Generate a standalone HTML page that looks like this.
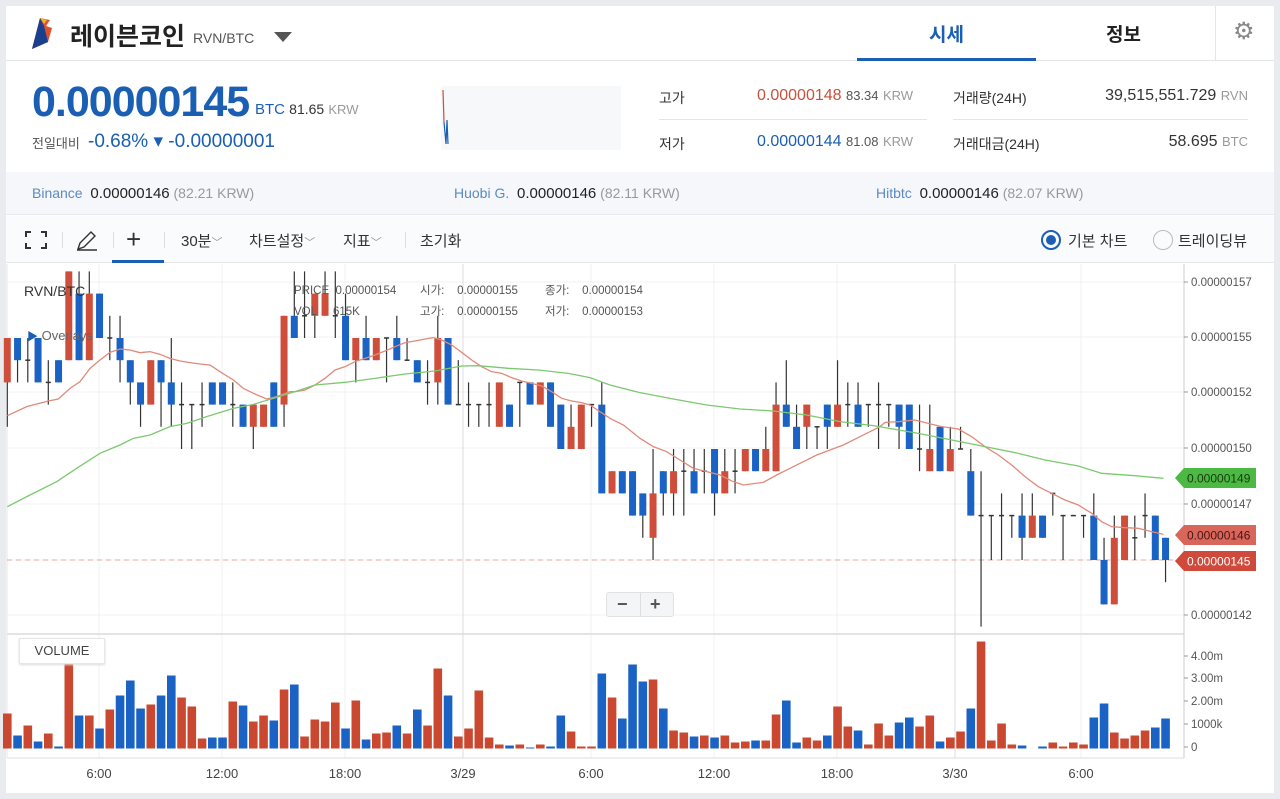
<!DOCTYPE html>
<html><head><meta charset="utf-8">
<style>
*{margin:0;padding:0;box-sizing:border-box}
body{width:1280px;height:799px;background:#e9ebef;font-family:"Liberation Sans","Noto Sans CJK KR",sans-serif;position:relative;overflow:hidden;color:#333}
.card{position:absolute;left:6px;top:6px;width:1268px;height:787px;background:#fff}
.abs{position:absolute;white-space:nowrap}
.g{color:#999}
</style></head><body>
<div class="card"></div>
<!-- header -->
<svg class="abs" style="left:28px;top:16px" width="26" height="34" viewBox="0 0 26 34"><polygon points="12,2 22,4 18,10 24,12 20,26 4,33" fill="#e0502a"/><polygon points="12,2 16,10 20,26 4,33" fill="#1b3f8f"/><polygon points="12,2 19,4 16,8" fill="#f0b030"/></svg>
<div class="abs" style="left:70px;top:17px;font-size:25px;font-weight:bold;color:#222">레이븐코인</div>
<div class="abs" style="left:193px;top:30px;font-size:14px;color:#555">RVN/BTC</div>
<div class="abs" style="left:274px;top:32px;width:0;height:0;border-left:9px solid transparent;border-right:9px solid transparent;border-top:10px solid #555"></div>
<div class="abs" style="left:6px;top:60px;width:1268px;height:1px;background:#e3e5e8"></div>
<div class="abs" style="left:929px;top:20px;font-size:19px;font-weight:bold;color:#1a5fb4">시세</div>
<div class="abs" style="left:857px;top:58px;width:179px;height:3px;background:#1a5fb4"></div>
<div class="abs" style="left:1106px;top:20px;font-size:19px;font-weight:bold;color:#222">정보</div>
<div class="abs" style="left:1215px;top:6px;width:1px;height:54px;background:#e3e5e8"></div>
<div class="abs" style="left:1233px;top:19px;font-size:24px;color:#888;line-height:26px">⚙</div>
<!-- price -->
<div class="abs" style="left:32px;top:78px;font-size:43px;font-weight:bold;color:#1a5fb4;letter-spacing:-1px">0.00000145</div>
<div class="abs" style="left:255px;top:101px;font-size:15px;color:#1a5fb4">BTC <span style="color:#333;font-size:14px">81.65</span> <span class="g" style="font-size:13px">KRW</span></div>
<div class="abs" style="left:32px;top:133px;font-size:13px;color:#555">전일대비</div>
<div class="abs" style="left:88px;top:130px;font-size:19px;color:#1a5fb4">-0.68% ▾ -0.00000001</div>
<div class="abs" style="left:441px;top:86px;width:180px;height:64px;background:#f7f8fa"></div>
<svg class="abs" style="left:441px;top:86px" width="20" height="64"><line x1="2" y1="4" x2="3" y2="36" stroke="#c9503c" stroke-width="1.2"/><polyline points="3,36 5,58 6,34 7,58" fill="none" stroke="#1a5fb4" stroke-width="1.2"/></svg>
<div class="abs" style="left:659px;top:88px;font-size:14px">고가</div>
<div class="abs" style="left:757px;top:87px;font-size:16px;color:#c9503c">0.00000148 <span style="color:#555;font-size:13px">83.34</span> <span class="g" style="font-size:13px">KRW</span></div>
<div class="abs" style="left:659px;top:119px;width:268px;height:1px;background:#e5e5e5"></div>
<div class="abs" style="left:659px;top:134px;font-size:14px">저가</div>
<div class="abs" style="left:757px;top:133px;font-size:16px;color:#1a5fb4">0.00000144 <span style="color:#555;font-size:13px">81.08</span> <span class="g" style="font-size:13px">KRW</span></div>
<div class="abs" style="left:953px;top:88px;font-size:14px">거래량(24H)</div>
<div class="abs" style="right:32px;top:87px;font-size:16px;color:#333">39,515,551.729 <span class="g" style="font-size:13px">RVN</span></div>
<div class="abs" style="left:953px;top:119px;width:295px;height:1px;background:#e5e5e5"></div>
<div class="abs" style="left:953px;top:134px;font-size:14px">거래대금(24H)</div>
<div class="abs" style="right:32px;top:133px;font-size:16px;color:#333">58.695 <span class="g" style="font-size:13px">BTC</span></div>
<!-- exchanges -->
<div class="abs" style="left:6px;top:172px;width:1268px;height:43px;background:#f5f7fa;border-bottom:1px solid #e6e8eb"></div>
<div class="abs" style="left:32px;top:185px;font-size:14px"><span style="color:#5b8ac4">Binance</span>&nbsp; <span style="color:#222;font-size:15px">0.00000146</span> <span class="g">(82.21 KRW)</span></div>
<div class="abs" style="left:454px;top:185px;font-size:14px"><span style="color:#5b8ac4">Huobi G.</span>&nbsp; <span style="color:#222;font-size:15px">0.00000146</span> <span class="g">(82.11 KRW)</span></div>
<div class="abs" style="left:876px;top:185px;font-size:14px"><span style="color:#5b8ac4">Hitbtc</span>&nbsp; <span style="color:#222;font-size:15px">0.00000146</span> <span class="g">(82.07 KRW)</span></div>
<!-- toolbar -->
<div class="abs" style="left:6px;top:216px;width:1268px;height:47px;background:#fafbfc;border-bottom:1px solid #e3e5e8"></div>
<svg class="abs" style="left:24px;top:230px" width="24" height="20" fill="none" stroke="#333" stroke-width="2"><path d="M2,7V2H7M17,2H22V7M22,13V18H17M7,18H2V13"/></svg>
<div class="abs" style="left:62px;top:232px;width:1px;height:16px;background:#ddd"></div>
<svg class="abs" style="left:75px;top:229px" width="24" height="22" fill="none" stroke="#333" stroke-width="1.4"><path d="M3,20L5,14L16,3L20,7L9,18Z M2,21H22"/></svg>
<div class="abs" style="left:113px;top:232px;width:1px;height:16px;background:#ddd"></div>
<div class="abs" style="left:126px;top:224px;font-size:26px;font-weight:300;color:#333">+</div>
<div class="abs" style="left:112px;top:260px;width:52px;height:3px;background:#1a5fb4"></div>
<div class="abs" style="left:164px;top:232px;width:1px;height:16px;background:#ddd"></div>
<div class="abs" style="left:181px;top:230px;font-size:15px;color:#333">30분<span class="g" style="font-size:11px">﹀</span></div>
<div class="abs" style="left:249px;top:230px;font-size:15px;color:#333">차트설정<span class="g" style="font-size:11px">﹀</span></div>
<div class="abs" style="left:343px;top:230px;font-size:15px;color:#333">지표<span class="g" style="font-size:11px">﹀</span></div>
<div class="abs" style="left:405px;top:232px;width:1px;height:16px;background:#ddd"></div>
<div class="abs" style="left:420px;top:230px;font-size:15px;color:#333">초기화</div>
<div class="abs" style="left:1041px;top:230px;width:20px;height:20px;border:2px solid #1a5fb4;border-radius:50%"><div style="margin:3px;width:10px;height:10px;border-radius:50%;background:#1a5fb4"></div></div>
<div class="abs" style="left:1068px;top:230px;font-size:15px;color:#333">기본 차트</div>
<div class="abs" style="left:1153px;top:230px;width:20px;height:20px;border:1.5px solid #bbb;border-radius:50%"></div>
<div class="abs" style="left:1178px;top:230px;font-size:15px;color:#333">트레이딩뷰</div>
<!-- chart -->
<svg id="ch" class="abs" style="left:0;top:0" width="1280" height="799"></svg>
<div class="abs" style="left:24px;top:283px;font-size:14px;color:#333">RVN/BTC</div>
<div class="abs" style="left:27px;top:328px;font-size:13px;color:#666"><span style="color:#1a5fb4;font-size:11px">▶</span> Overlays</div>
<div class="abs" style="left:294px;top:281px;font-size:11.5px;color:#555;line-height:21px">PRICE&nbsp; 0.00000154<br>VOL&nbsp;&nbsp;&nbsp;&nbsp; 615K</div>
<div class="abs" style="left:420px;top:281px;font-size:11.5px;color:#555;line-height:21px">시가:&nbsp;&nbsp;&nbsp; 0.00000155<br>고가:&nbsp;&nbsp;&nbsp; 0.00000155</div>
<div class="abs" style="left:545px;top:281px;font-size:11.5px;color:#555;line-height:21px">종가:&nbsp;&nbsp;&nbsp; 0.00000154<br>저가:&nbsp;&nbsp;&nbsp; 0.00000153</div>
<div class="abs" style="left:606px;top:592px;width:68px;height:25px;background:#f4f5f7;border:1px solid #e0e2e5;border-radius:3px;font-size:18px;font-weight:bold;color:#555;line-height:22px"><span style="position:absolute;left:10px">−</span><span style="position:absolute;left:33px;top:0;width:1px;height:23px;background:#ddd"></span><span style="position:absolute;left:43px">+</span></div>
<div class="abs" style="left:19px;top:638px;width:86px;height:26px;background:#fff;border:1px solid #e6e6e6;box-shadow:0 1px 2px #ddd;font-size:13px;color:#444;text-align:center;line-height:24px">VOLUME</div>
<script>
const S='http://www.w3.org/2000/svg',svg=document.getElementById('ch');
function el(t,a){const e=document.createElementNS(S,t);for(const k in a)e.setAttribute(k,a[k]);svg.appendChild(e);return e;}
const Y=v=>560-(v-145)*22.2;
[282,337,392,448,504,560,615].forEach(y=>el('line',{x1:7,x2:1184,y1:y,y2:y,stroke:'#f0f0f0'}));
[99,222,345,591,714,837,1081].forEach(x=>el('line',{x1:x,x2:x,y1:264,y2:758,stroke:'#f0f0f0'}));
[463,955].forEach(x=>el('line',{x1:x,x2:x,y1:264,y2:758,stroke:'#dcdcdc'}));
el('line',{x1:7,x2:1184,y1:634,y2:634,stroke:'#dcdcdc','stroke-width':1.5});
el('line',{x1:1184,x2:1184,y1:264,y2:758,stroke:'#ccc'});
el('line',{x1:7,x2:1184,y1:758,y2:758,stroke:'#ddd'});
el('line',{x1:7,x2:7,y1:264,y2:758,stroke:'#e5e5e5'});
[[157,282],[155,337],[152,392],[150,448],[147,504],[142,615]].forEach(([v,y])=>{el('line',{x1:1184,x2:1188,y1:y,y2:y,stroke:'#999'});const t=el('text',{x:1191,y:y+4,'font-size':11.5,fill:'#555','font-family':'Liberation Sans'});t.textContent='0.00000'+v;});
[['4.00m',656],['3.00m',678],['2.00m',701],['1000k',724],['0',747]].forEach(([s,y])=>{el('line',{x1:1184,x2:1188,y1:y,y2:y,stroke:'#999'});const t=el('text',{x:1191,y:y+4,'font-size':11.5,fill:'#555','font-family':'Liberation Sans'});t.textContent=s;});
[['6:00',99],['12:00',222],['18:00',345],['3/29',463],['6:00',591],['12:00',714],['18:00',837],['3/30',955],['6:00',1081]].forEach(([s,x])=>{const t=el('text',{x:x,y:778,'font-size':13,fill:'#444','text-anchor':'middle','font-family':'Liberation Sans'});t.textContent=s;});
el('line',{x1:7,x2:1175,y1:560,y2:560,stroke:'#e8a8a0','stroke-dasharray':'5,4'});
const C=[
['r',155,153,155,151,35],['b',155,154,155,153,13],['d',154,154,155,153,23],['b',155,153,155,153,7],['d',153,153,154,152,15],['b',154,153,154,153,2],
['r',158,154,158,154,95],['b',157,154,158,154,33],['r',157,154,158,154,33],['b',157,155,157,155,20],['d',155,155,156,154,39],['b',155,154,156,153,53],
['b',154,153,154,152,68],['b',153,152,153,151,40],['r',154,152,154,152,44],['b',154,153,154,151,53],['b',153,152,155,151,73],['d',152,152,153,150,51],
['d',152,152,152,150,42],['d',152,152,153,151,10],['b',153,152,153,152,11],['b',153,152,153,152,11],['d',152,152,153,151,47],['b',152,151,152,151,43],
['r',152,151,152,150,27],['r',152,151,152,151,33],['b',153,151,153,151,28],['r',156,152,156,151,59],['b',156,155,158,155,64],
['d',156,156,158,155,12],['r',157,156,157,155,29],['r',157,156,158,156,27],['d',156,156,158,155,46],['b',156,154,157,154,20],['r',155,154,155,153,48],
['b',155,154,156,154,9],['r',155,154,155,154,15],['d',155,155,155,153,16],['b',155,154,156,154,23],['d',154,154,155,154,15],['b',154,153,154,153,39],
['d',153,153,154,152,23],['r',155,153,156,152,80],['b',155,152,155,152,53],['d',152,152,154,152,12],['d',152,152,153,151,20],['d',152,152,152,151,58],
['d',152,152,153,151,11],['r',153,151,153,151,4],['b',152,151,152,151,3],['d',153,153,153,151,4],['b',153,152,153,152,1],['r',153,152,153,152,4],
['b',153,151,153,151,2],['b',152,150,152,150,33],['r',151,150,152,150,17],['r',152,150,152,150,2],['d',152,152,152,151,2],
['b',152,148,153,148,75],['r',149,148,149,148,51],['b',149,148,149,148,30],['b',149,147,149,147,84],['b',148,147,148,146,67],['r',148,146,150,145,69],
['b',149,148,149,147,40],['r',149,148,150,147,18],['d',149,149,150,147,16],['b',149,148,150,148,12],['d',149,149,150,148,13],['b',150,148,150,147,11],
['r',149,148,150,148,13],['d',149,149,150,148,6],['r',150,149,150,149,7],['b',150,149,150,149,8],['r',150,149,151,149,8],['r',152,149,153,149,34],
['b',152,151,154,151,48],['b',151,150,152,150,6],['r',152,151,152,150,11],['d',151,151,151,150,8],['b',152,151,152,150,13],['r',152,151,154,151,42],
['d',152,152,153,151,22],['b',152,151,153,151,18],['d',152,152,152,151,4],['d',152,152,153,150,25],['d',152,152,152,151,13],
['b',152,151,152,150,26],['b',152,150,152,150,31],['d',150,150,152,149,22],['r',150,149,152,149,33],['b',151,149,151,149,7],['r',150,149,151,149,11],
['d',150,150,151,150,17],['b',149,147,150,147,40],['d',147,147,149,142,107],['d',147,147,147,145,8],['d',147,147,148,145,25],['d',147,147,147,146,4],
['b',147,146,148,145,3],['r',147,146,148,146,0],['b',147,146,147,146,2],['d',148,148,148,147,6],['d',147,147,147,145,2],['d',147,147,147,147,6],
['d',147,147,147,146,4],['b',147,145,148,145,31],['b',145,143,146,143,45],['r',146,143,147,143,16],['r',147,145,147,145,10],['d',146,146,147,145,13],
['d',147,147,148,146,18],['b',147,145,147,145,21],['b',146,145,146,144,30]];
const RED='#cf4e3b',BLUE='#1a63c4';
C.forEach((c,i)=>{const x=7.3+10.25*i;const col=c[0]=='b'?BLUE:RED;
 el('line',{x1:x,x2:x,y1:Y(c[3]),y2:Y(c[4]),stroke:'#333','stroke-width':1.2});
 if(c[0]=='d'){el('line',{x1:x-2.5,x2:x+2.5,y1:Y(c[1]),y2:Y(c[1]),stroke:'#333','stroke-width':1.5});}
 else{const t=Y(c[1]),b=Y(c[2]);el('rect',{x:x-3.5,y:t,width:7,height:Math.max(b-t,1.5),fill:col});}
 if(c[5]>0){el('rect',{x:x-4.3,y:748.5-c[5],width:8.6,height:c[5],fill:c[0]=='b'?BLUE:'#c9482f'});}
});
function line(groups,col){let pts=[];groups.forEach(([ox,arr])=>arr.forEach(([x,y])=>pts.push([ox+x/3,265+y/3])));
 pts.sort((a,b)=>a[0]-b[0]);el('polyline',{points:pts.map(p=>p.join(',')).join(' '),fill:'none',stroke:col,'stroke-width':1.3});}
line([[0,[[22,452],[80,425],[145,408],[175,402],[210,370],[240,350],[270,310],[300,285],[330,262],[360,252],[390,255],[420,263],[450,260],[480,268],[510,280],[540,288],[570,293],[600,297],[630,300],[660,320],[700,345],[730,370],[760,385],[800,402],[830,395],[870,380]]],
[295,[[0,380],[30,375],[60,360],[90,340],[120,315],[150,305],[180,290],[210,280],[240,270],[270,258],[300,245],[330,233],[360,228],[390,222],[415,218],[440,225],[470,240],[500,262],[530,285],[560,305],[590,320],[620,325],[650,338],[680,348],[710,355],[740,363],[770,380],[800,400],[830,408],[860,413]]],
[590,[[0,420],[30,440],[60,460],[100,480],[150,520],[190,545],[230,560],[270,585],[310,610],[350,620],[390,630],[430,650],[460,660],[520,652],[560,630],[600,610],[640,590],[680,570],[720,555],[760,540],[800,520],[840,500],[870,485]]],
[885,[[0,472],[40,470],[90,465],[130,475],[170,485],[220,492],[260,515],[300,545],[340,570],[380,600],[420,635],[460,665],[500,685],[540,705],[580,720],[620,745],[650,770],[680,785],[720,788],[760,790],[800,800],[835,808]]]],'#e08a7a');
line([[0,[[22,725],[90,690],[170,650],[230,610],[300,565],[360,540],[400,520],[450,510],[510,485],[560,475],[620,455],[700,430],[760,418],[820,400]]],
[295,[[0,380],[60,360],[150,352],[240,340],[330,327],[420,318],[500,303],[550,302],[640,310],[730,315],[820,325]]],
[590,[[0,338],[60,360],[150,383],[250,402],[350,420],[450,432],[550,438],[650,450],[750,470],[850,482]]],
[885,[[0,488],[100,505],[200,525],[300,545],[400,565],[480,585],[580,603],[650,625],[750,632],[835,640]]]],'#7cc96f');
[[478,'#4cb944','#1a3a10'],[535,'#d9665a','#4a1510'],[561,'#d04a3c','#fff']].forEach(([y,bg,fg])=>{
 el('polygon',{points:`1175,${y} 1184,${y-10} 1256,${y-10} 1256,${y+10} 1184,${y+10}`,fill:bg});
 const t=el('text',{x:1187,y:y+4.5,'font-size':12,fill:fg,'font-family':'Liberation Sans'});t.textContent=y==478?'0.00000149':y==535?'0.00000146':'0.00000145';});
</script>
</body></html>
